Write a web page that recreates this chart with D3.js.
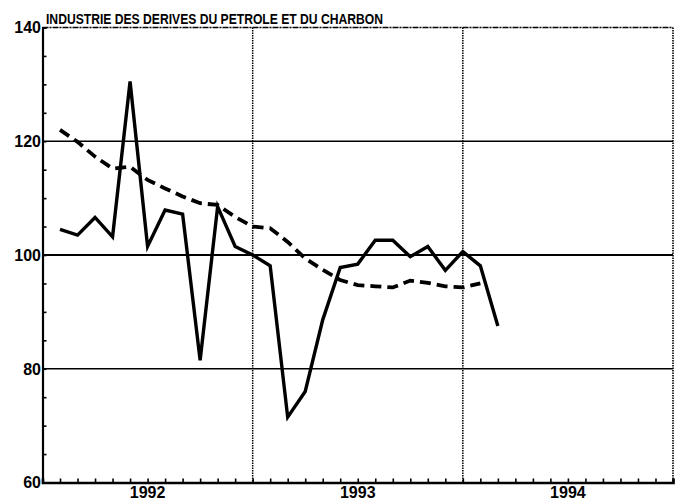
<!DOCTYPE html>
<html>
<head>
<meta charset="utf-8">
<script src="https://cdn.jsdelivr.net/npm/d3@7"></script>
<style>
  body { margin: 0; background: #fff; }
  text { font-family: "Liberation Sans", Arial, sans-serif; font-weight: bold; fill: #000; }
</style>
</head>
<body>
<div id="chart"></div>
<script>
// monthly index, Feb 1992 onwards
const months = ["1992-02","1992-03","1992-04","1992-05","1992-06","1992-07","1992-08","1992-09","1992-10","1992-11","1992-12",
  "1993-01","1993-02","1993-03","1993-04","1993-05","1993-06","1993-07","1993-08","1993-09","1993-10","1993-11","1993-12",
  "1994-01","1994-02","1994-03"];
const actual = [104.5, 103.5, 106.6, 103.2, 130.5, 101.5, 107.9, 107.2, 81.5, 108.5, 101.5, 100.0, 98.1,
  71.5, 76.0, 88.6, 97.8, 98.4, 102.6, 102.6, 99.7, 101.5, 97.3, 100.6, 98.1, 87.5];
const trend = [122.0, 119.9, 117.3, 115.2, 115.5, 113.2, 111.7, 110.3, 109.1, 108.8, 106.7, 105.0, 104.7,
  102.3, 99.4, 97.4, 95.6, 94.7, 94.5, 94.3, 95.5, 95.1, 94.5, 94.3, 95.0];
const years = ["1992", "1993", "1994"];
const yTicks = [60, 80, 100, 120, 140];
const title = "INDUSTRIE DES DERIVES DU PETROLE ET DU CHARBON";

const width = 687, height = 504;
const mLeft = 42.5, mRight = 673, mTop = 27.5, mBottom = 482.5;

const monthIdx = s => (+s.slice(0, 4) - 1992) * 12 + (+s.slice(5, 7) - 1);

const x = d3.scaleLinear().domain([0, 36]).range([mLeft, mRight]);
const y = d3.scaleLinear().domain([60, 140]).range([mBottom, mTop]);

const svg = d3.select("#chart").append("svg")
  .attr("width", width).attr("height", height);

// horizontal grid lines
svg.selectAll(".hgrid")
  .data([80, 100, 120])
  .enter().append("line")
  .attr("x1", mLeft).attr("x2", mRight)
  .attr("y1", d => y(d)).attr("y2", d => y(d))
  .attr("stroke", "#000")
  .attr("stroke-width", d => d === 100 ? 2.2 : 1.6);

// dotted year separators
svg.selectAll(".vgrid")
  .data([12, 24])
  .enter().append("line")
  .attr("x1", d => x(d)).attr("x2", d => x(d))
  .attr("y1", mTop).attr("y2", mBottom)
  .attr("stroke", "#000")
  .attr("stroke-width", 1.5)
  .attr("stroke-dasharray", "1.5,1");

// frame: top and right are dotted
svg.append("line").attr("x1", mLeft).attr("x2", mRight).attr("y1", mTop).attr("y2", mTop)
  .attr("stroke", "#000").attr("stroke-width", 1.6).attr("stroke-dasharray", "6,1,2,1");
svg.append("line").attr("x1", mRight).attr("x2", mRight).attr("y1", mTop).attr("y2", mBottom)
  .attr("stroke", "#000").attr("stroke-width", 1.6).attr("stroke-dasharray", "1.5,1");

// left axis with inward ticks
const yAxis = d3.axisRight(y).tickValues(d3.range(60, 141, 5)).tickSize(4).tickFormat("");
svg.append("g").attr("transform", `translate(${mLeft},0)`).call(yAxis)
  .call(g => g.select(".domain").attr("stroke-width", 2.2))
  .call(g => g.selectAll(".tick line").attr("stroke-width", 1.6));

// bottom axis with monthly ticks pointing up
const xAxis = d3.axisTop(x).tickValues(d3.range(0, 37)).tickSize(4).tickFormat("");
svg.append("g").attr("transform", `translate(0,${mBottom})`).call(xAxis)
  .call(g => g.select(".domain").attr("stroke-width", 2.6))
  .call(g => g.selectAll(".tick line").attr("stroke-width", 1.6));

// y labels
svg.selectAll(".ylab")
  .data(yTicks)
  .enter().append("text")
  .attr("x", 41)
  .attr("y", d => y(d))
  .attr("dy", "0.36em")
  .attr("text-anchor", "end")
  .attr("font-size", 16)
  .text(d => d);

// year labels
svg.selectAll(".xlab")
  .data(years)
  .enter().append("text")
  .attr("x", (d, i) => x(i * 12 + 6))
  .attr("y", 498)
  .attr("text-anchor", "middle")
  .attr("font-size", 16)
  .text(d => d);

svg.append("text")
  .attr("x", 46).attr("y", 24)
  .attr("font-size", 15)
  .attr("textLength", 337)
  .attr("lengthAdjust", "spacingAndGlyphs")
  .text(title);

const line = d3.line()
  .x(d => x(d[0]))
  .y(d => y(d[1]));

svg.append("path")
  .datum(trend.map((v, i) => [monthIdx(months[i]), v]))
  .attr("d", line)
  .attr("fill", "none")
  .attr("stroke", "#000")
  .attr("stroke-width", 3.8)
  .attr("stroke-dasharray", "11,6");

svg.append("path")
  .datum(actual.map((v, i) => [monthIdx(months[i]), v]))
  .attr("d", line)
  .attr("fill", "none")
  .attr("stroke", "#000")
  .attr("stroke-width", 3.4)
  .attr("stroke-linejoin", "miter");
</script>
</body>
</html>
